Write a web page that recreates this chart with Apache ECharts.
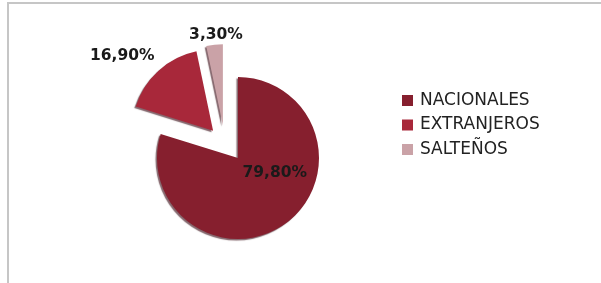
<!DOCTYPE html>
<html>
<head>
<meta charset="utf-8">
<script src="https://cdn.jsdelivr.net/npm/echarts@6/dist/echarts.min.js"></script>
<style>
  html, body { margin: 0; padding: 0; background: #fff; }
  #main { width: 601px; height: 283px; }
</style>
</head>
<body>
<div id="main"></div>
<script>
const categories = ['NACIONALES', 'EXTRANJEROS', 'SALTEÑOS'];
const values = [79.8, 16.9, 3.3];
const labels = ['79,80%', '16,90%', '3,30%'];
const colors = ['#861f2e', '#a8283a', '#caa2a7'];

let myChart = echarts.init(document.getElementById('main'));

const labelFont = {
    fontFamily: 'DejaVu Sans',
    fontWeight: 'bold',
    fontSize: 15.5,
    color: '#1a1a1a'
};
const sliceShadow = {
    shadowColor: 'rgba(50,0,12,0.6)',
    shadowBlur: 1,
    shadowOffsetX: -1.5,
    shadowOffsetY: 1.5
};
// hueco transparente para que cada serie conserve los angulos del total
const gap = (v) => ({
    value: v,
    name: '',
    itemStyle: {color: 'rgba(0,0,0,0)', shadowColor: 'rgba(0,0,0,0)'},
    label: {show: false},
    tooltip: {show: false}
});
const item = (i, extra) => Object.assign({
    value: values[i],
    name: categories[i],
    itemStyle: {color: colors[i]},
    label: {formatter: labels[i]}
}, extra || {});

const baseSeries = {
    type: 'pie',
    radius: 81,
    startAngle: 90,
    clockwise: true,
    selectedMode: 'multiple',
    animation: false,
    itemStyle: sliceShadow,
    label: Object.assign({show: true}, labelFont),
    labelLine: {show: false, length: 6, length2: 4},
    emphasis: {disabled: true}
};

let option = {
    backgroundColor: '#fff',
    graphic: [
        {type: 'rect', shape: {x: 7, y: 2, width: 594, height: 2}, style: {fill: '#c6c6c6'}},
        {type: 'rect', shape: {x: 7, y: 2, width: 2, height: 281}, style: {fill: '#c6c6c6'}}
    ],
    legend: {
        orient: 'vertical',
        left: 402,
        top: 92,
        padding: 0,
        itemWidth: 11,
        itemHeight: 11,
        itemGap: 7.5,
        icon: 'rect',
        data: categories,
        selectedMode: false,
        textStyle: {fontFamily: 'DejaVu Sans', fontSize: 17, lineHeight: 17, color: '#222', padding: [0, 0, 0, 2]}
    },
    series: [
        Object.assign({}, baseSeries, {
            center: [238, 158],
            selectedOffset: 37,
            labelLayout: (p) => p.dataIndex === 1 ? {dx: 9, dy: -10} : {},
            data: [
                item(0, {label: {formatter: labels[0], position: 'inside', offset: [11, -20]}}),
                item(1, {selected: true}),
                gap(values[2])
            ]
        }),
        Object.assign({}, baseSeries, {
            center: [226, 155],
            selectedOffset: 30,
            labelLayout: (p) => p.dataIndex === 1 ? {dx: 38, dy: -4} : {},
            data: [
                gap(values[0] + values[1]),
                item(2, {selected: true})
            ]
        })
    ]
};

option && myChart.setOption(option);
</script>
</body>
</html>
